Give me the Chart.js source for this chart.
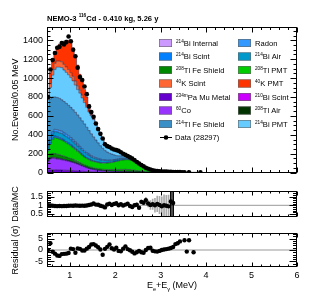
<!DOCTYPE html>
<html>
<head>
<meta charset="utf-8">
<script src="https://cdn.jsdelivr.net/npm/chart.js@4.4.1/dist/chart.umd.min.js"></script>
<style>
  html, body { margin: 0; padding: 0; background: #fff; }
  #wrap { position: relative; width: 315px; height: 301px; }
  canvas { position: absolute; left: 0; }
  #mainChart { top: 0; }
  #ratioChart { top: 182px; }
  #residChart { top: 222px; }
</style>
</head>
<body>
<div id="wrap">
  <canvas id="mainChart" width="315" height="182"></canvas>
  <canvas id="ratioChart" width="315" height="44"></canvas>
  <canvas id="residChart" width="315" height="79"></canvas>
</div>
<script>
const FONT = "'Liberation Sans', Arial, Helvetica, sans-serif";
Chart.defaults.font.family = FONT;
Chart.defaults.color = '#000';

// histogram binning (MeV)
const binLow = 0.5;
const binWidth = 0.05;

// data, events per bin
const dataCounts = [
  800,1090,1190,1265,1320,1330,1370,1355,1380,1440,
  1390,1300,1230,1110,1010,980,910,830,700,640,
  590,520,460,410,360,300,280,270,255,245,
  238,230,215,200,188,176,163,148,130,112,
  96,80,66,50,40,32,24,20,16,14,
  12,11,10,9,8,7,6,6,5,3,
  4,null,3,null,null,null,null,2,null,null
];

// MC components, events per bin
const mcPaMu = [
  25,30,30,30,28,28,27,26,25,24, 23,22,20,19,17,15,13,11,10,9,
  8,7,6,5,4,4,3,3,2,2, 2,1,1,1,1,0,0,0,0,0,
  0,0,0,0,0,0,0,0,0,0, 0,0,0,0,0,0,0,0,0,0, 0,0,0,0,0,0,0,0,0,0
];
const mcCo60 = [
  90,115,120,118,115,112,108,104,100,95, 90,85,78,70,62,55,48,40,33,28,
  24,20,17,15,13,12,11,10,10,9, 9,8,8,7,7,6,6,5,5,4,
  4,3,3,2,2,2,1,1,1,1, 0,0,0,0,0,0,0,0,0,0, 0,0,0,0,0,0,0,0,0,0
];
const mcBi210Scint = [
  6,6,5,5,4,4,3,3,2,2, 2,1,1,1,1,0,0,0,0,0,
  0,0,0,0,0,0,0,0,0,0, 0,0,0,0,0,0,0,0,0,0,
  0,0,0,0,0,0,0,0,0,0, 0,0,0,0,0,0,0,0,0,0, 0,0,0,0,0,0,0,0,0,0
];
const mcBi214Int = [
  3,3,3,3,3,3,3,3,3,3, 3,3,3,2,2,2,2,2,2,2,
  2,2,2,2,2,1,1,1,1,1, 1,1,1,1,1,1,1,1,1,1,
  1,1,0,0,0,0,0,0,0,0, 0,0,0,0,0,0,0,0,0,0, 0,0,0,0,0,0,0,0,0,0
];
const mcTl208Air = [
  4,4,4,4,4,4,3,3,3,3, 3,3,3,3,3,3,3,2,2,2,
  2,2,2,2,2,2,2,2,2,2, 2,2,2,2,2,2,2,2,2,2,
  2,2,2,1,1,1,1,1,0,0, 0,0,0,0,0,0,0,0,0,0, 0,0,0,0,0,0,0,0,0,0
];
const mcTl208Fe = [
  30,40,42,42,40,38,36,34,32,30, 28,26,24,22,20,18,17,16,15,15,
  14,14,14,14,14,15,16,17,18,19, 20,21,22,23,24,24,23,21,18,15,
  12,9,7,5,4,3,2,2,1,1, 0,0,0,0,0,0,0,0,0,0, 0,0,0,0,0,0,0,0,0,0
];
const mcTl208Pmt = [
  72,102,146,168,171,166,165,157,150,143, 136,125,116,108,100,92,82,79,76,69,
  68,65,65,64,65,66,68,71,75,80, 84,91,96,99,101,104,102,98,91,82,
  70,59,47,38,28,20,15,9,6,3, 2,2,1,1,1,0,0,0,0,0, 0,0,0,0,0,0,0,0,0,0
];
const mcBi214Scint = [
  15,18,18,18,17,16,16,15,14,14, 13,13,12,12,11,10,10,9,9,8,
  8,8,7,7,7,6,6,6,6,5, 5,5,5,5,4,4,4,4,4,3,
  3,3,3,3,2,2,2,2,2,2, 2,2,1,1,1,1,1,1,1,1, 0,0,0,0,0,0,0,0,0,0
];
const mcBi214Air = [
  25,35,40,45,48,50,52,52,52,52, 50,48,46,44,42,40,38,36,34,32,
  30,28,26,24,22,20,18,16,15,14, 13,12,11,10,9,8,7,6,5,5,
  4,4,3,3,3,2,2,2,2,1, 1,1,1,1,1,1,1,1,0,0, 0,0,0,0,0,0,0,0,0,0
];
const mcRadon = [
  15,20,22,24,25,25,25,25,24,24, 23,22,21,20,19,18,17,16,15,14,
  13,12,11,10,9,8,7,7,6,6, 5,5,5,4,4,4,3,3,3,2,
  2,2,2,2,1,1,1,1,1,1, 1,1,1,1,0,0,0,0,0,0, 0,0,0,0,0,0,0,0,0,0
];
const mcTl214Fe = [
  415,407,370,343,340,339,332,330,328,322, 319,317,314,309,303,295,285,269,249,231,
  209,187,165,142,120,101,86,72,61,50, 39,32,26,22,19,16,13,10,8,6,
  5,4,3,3,2,2,2,1,1,1, 1,1,1,1,1,1,0,0,0,0, 0,0,0,0,0,0,0,0,0,0
];
const mcBi214Pmt = [
  70,120,230,290,320,330,340,333,327,323, 315,305,287,268,260,242,225,210,195,190,
  182,160,135,115,94,77,70,64,62,60, 58,50,39,32,25,20,15,12,10,8,
  6,5,5,4,4,3,3,3,3,3, 3,3,3,3,3,3,3,3,3,3, 3,3,2,2,2,2,2,1,1,1
];
const mcK40Scint = [
  10,40,60,65,65,65,62,60,58,55, 52,48,44,40,35,30,24,18,12,8,
  5,3,2,1,1,0,0,0,0,0, 0,0,0,0,0,0,0,0,0,0,
  0,0,0,0,0,0,0,0,0,0, 0,0,0,0,0,0,0,0,0,0, 0,0,0,0,0,0,0,0,0,0
];
const mcK40Pmt = [
  10,120,110,125,150,180,208,245,282,310, 323,302,261,220,165,140,116,92,68,42,
  20,12,8,5,4,3,2,1,0,0, 0,0,0,0,0,0,0,0,0,0,
  0,0,0,0,0,0,0,0,0,0, 0,0,0,0,0,0,0,0,0,0, 0,0,0,0,0,0,0,0,0,0
];

// Data/MC ratio with errors, and residuals in sigma
const ratioValues = [
  1.01,0.99,0.97,0.96,0.95,0.96,0.95,0.96,0.96,0.97,
  0.98,0.97,0.99,0.98,0.97,0.98,0.97,0.99,1.02,1.05,
  1.10,1.04,1.03,0.97,0.94,0.88,1.05,1.09,1.02,1.08,
  1.12,1.00,1.06,0.99,1.04,1.09,0.96,0.90,1.00,1.03,
  0.86,1.20,1.15,1.30,1.10,1.02,1.06,1.00,1.08,1.02,
  0.94,1.00,0.97,0.94,1.22,1.13
];
const ratioErrors = [
  0.02,0.02,0.02,0.02,0.02,0.02,0.02,0.02,0.02,0.02,
  0.02,0.02,0.02,0.02,0.02,0.03,0.03,0.03,0.03,0.03,
  0.03,0.04,0.04,0.04,0.04,0.05,0.05,0.05,0.05,0.05,
  0.05,0.06,0.06,0.06,0.07,0.07,0.08,0.08,0.09,0.10,
  0.11,0.12,0.14,0.16,0.20,0.25,0.30,0.40,0.45,0.50,
  0.55,0.60,0.60,0.65,1.20,1.20
];
const residValues = [
  0.0,3.0,-0.8,-1.6,-2.4,-2.6,-1.8,-1.7,-1.6,-1.3,
  0.6,0.4,-1.2,0.7,0.5,-0.2,-0.2,0.6,1.3,2.4,
  2.6,2.0,1.2,0.2,-2.1,0.5,1.4,2.4,0.8,0.2,
  1.0,-0.4,-0.6,0.6,1.6,0.4,-0.1,-0.8,-1.5,-1.0,
  -0.4,-1.0,-1.2,0.0,0.9,1.0,-0.3,-0.6,-0.7,-0.4,
  0.0,0.2,0.4,0.6,0.9,1.3,2.6,3.0,3.8,null,
  4.3,-0.7,4.3,null,-1.0
];

// axis ticks
const xTicks = [1, 2, 3, 4, 5, 6];
const mainYTicks = [0, 200, 400, 600, 800, 1000, 1200, 1400];
const ratioYTicks = [0.5, 1, 1.5];
const residYTicks = [-5, 0, 5];

// stacking order, bottom first
const layers = [
  { key: 'pa',     name: [['234m', 1], ['Pa Mu Metal']],   values: mcPaMu,       color: '#6600cc' },
  { key: 'co',     name: [['60', 1], ['Co']],              values: mcCo60,       color: '#9933ff' },
  { key: 'bi210',  name: [['210', 1], ['Bi Scint']],       values: mcBi210Scint, color: '#cc00ff' },
  { key: 'biint',  name: [['214', 1], ['Bi Internal']],    values: mcBi214Int,   color: '#cc99ff' },
  { key: 'tlair',  name: [['208', 1], ['Tl Air']],         values: mcTl208Air,   color: '#003300' },
  { key: 'tlfe',   name: [['208', 1], ['Tl Fe Shield']],   values: mcTl208Fe,    color: '#008800' },
  { key: 'tlpmt',  name: [['208', 1], ['Tl PMT']],         values: mcTl208Pmt,   color: '#00cc00' },
  { key: 'bisc',   name: [['214', 1], ['Bi Scint']],       values: mcBi214Scint, color: '#0080ff' },
  { key: 'biair',  name: [['214', 1], ['Bi Air']],         values: mcBi214Air,   color: '#0099cc' },
  { key: 'radon',  name: [['Radon']],                      values: mcRadon,      color: '#3399ff' },
  { key: 'tl214',  name: [['214', 1], ['Tl Fe Shield']],   values: mcTl214Fe,    color: '#3a8fc6' },
  { key: 'bipmt',  name: [['214', 1], ['Bi PMT']],         values: mcBi214Pmt,   color: '#66ccff' },
  { key: 'ksc',    name: [['40', 1], ['K Scint']],         values: mcK40Scint,   color: '#ff6633' },
  { key: 'kpmt',   name: [['40', 1], ['K PMT']],           values: mcK40Pmt,     color: '#ff3300' }
];
const legendOrder = ['biint', 'radon', 'bisc', 'biair', 'tlfe', 'tlpmt', 'ksc', 'kpmt',
                     'pa', 'bi210', 'co', 'tlair', 'tl214', 'bipmt'];

const binEdge = i => +(binLow + i * binWidth).toFixed(3);
const binCenter = i => +(binLow + (i + 0.5) * binWidth).toFixed(3);

function stepPoints(vals) {
  const pts = vals.map((v, i) => ({ x: binEdge(i), y: v }));
  pts.push({ x: binEdge(vals.length), y: 0 });
  return pts;
}

function drawParts(ctx, parts, x, y, size, weight) {
  let cx = x;
  parts.forEach(p => {
    const mode = p[1] || 0; // 1 sup, -1 sub
    const s = mode ? size * 0.62 : size;
    ctx.font = `${weight} ${s}px ${FONT}`;
    const dy = mode === 1 ? -size * 0.42 : mode === -1 ? size * 0.28 : 0;
    ctx.fillText(p[0], cx, y + dy);
    cx += ctx.measureText(p[0]).width;
  });
  return cx - x;
}
function partsWidth(ctx, parts, size, weight) {
  let w = 0;
  parts.forEach(p => {
    const s = p[1] ? size * 0.62 : size;
    ctx.font = `${weight} ${s}px ${FONT}`;
    w += ctx.measureText(p[0]).width;
  });
  return w;
}

// ROOT style frame with inward ticks on all four sides
const framePlugin = {
  id: 'frame',
  afterDatasetsDraw(chart, args, o) {
    const { ctx, chartArea: a } = chart;
    const xs = chart.scales.x, ys = chart.scales.y;
    const L = Math.round(a.left) + 0.5, R = Math.round(a.right) - 0.5;
    const T = Math.round(a.top) + 0.5, B = Math.round(a.bottom) - 0.5;
    ctx.save();
    ctx.strokeStyle = '#000';
    ctx.lineWidth = 1;
    ctx.beginPath();
    const k0 = Math.ceil(xs.min / o.xMinor - 1e-6), k1 = Math.floor(xs.max / o.xMinor + 1e-6);
    for (let k = k0; k <= k1; k++) {
      const v = k * o.xMinor;
      const major = Math.abs(v - Math.round(v)) < 1e-6;
      const len = major ? o.xMaj : o.xMin;
      const px = Math.round(xs.getPixelForValue(v)) + 0.5;
      ctx.moveTo(px, B); ctx.lineTo(px, B - len);
      ctx.moveTo(px, T); ctx.lineTo(px, T + len);
    }
    const j0 = Math.ceil(ys.min / o.yMinor - 1e-6), j1 = Math.floor(ys.max / o.yMinor + 1e-6);
    for (let j = j0; j <= j1; j++) {
      const v = j * o.yMinor;
      const major = Math.abs(v / o.yMajorStep - Math.round(v / o.yMajorStep)) < 1e-6;
      const len = major ? o.yMaj : o.yMin;
      const py = Math.round(ys.getPixelForValue(v)) + 0.5;
      ctx.moveTo(L, py); ctx.lineTo(L + len, py);
      ctx.moveTo(R, py); ctx.lineTo(R - len, py);
    }
    ctx.stroke();
    ctx.strokeRect(L, T, R - L, B - T);
    ctx.restore();
  }
};

const titlePlugin = {
  id: 'rootTitle',
  afterDraw(chart) {
    const ctx = chart.ctx;
    ctx.save();
    ctx.fillStyle = '#000';
    ctx.textBaseline = 'alphabetic';
    drawParts(ctx, [['NEMO-3 '], ['116', 1], ['Cd - 0.410 kg, 5.26 y']], 47, 20.5, 7.6, 'bold');
    ctx.restore();
  }
};

const legendPlugin = {
  id: 'rootLegend',
  afterDraw(chart) {
    const ctx = chart.ctx;
    ctx.save();
    ctx.textBaseline = 'alphabetic';
    legendOrder.forEach((key, i) => {
      const l = layers.find(d => d.key === key);
      const col = i % 2, row = Math.floor(i / 2);
      const yc = 43 + row * 13.5;
      const bx = col ? 238 : 159;
      ctx.fillStyle = l.color;
      ctx.fillRect(bx, yc - 4, 13, 8);
      ctx.strokeStyle = '#666';
      ctx.lineWidth = 0.6;
      ctx.strokeRect(bx + 0.3, yc - 3.7, 12.4, 7.4);
      ctx.fillStyle = '#000';
      drawParts(ctx, l.name, bx + 17, yc + 2.8, 7.6, 'normal');
    });
    const yd = 43 + 7 * 13.5;
    ctx.strokeStyle = '#000';
    ctx.lineWidth = 1;
    ctx.beginPath();
    ctx.moveTo(160, yd); ctx.lineTo(172, yd);
    ctx.stroke();
    ctx.beginPath();
    ctx.arc(166, yd, 2.3, 0, Math.PI * 2);
    ctx.fillStyle = '#000';
    ctx.fill();
    drawParts(ctx, [['Data (28297)']], 175, yd + 2.8, 7.6, 'normal');
    ctx.restore();
  }
};

const xTitlePlugin = {
  id: 'xTitle',
  afterDraw(chart) {
    const { ctx, chartArea: a } = chart;
    const parts = [['E'], ['e', -1], ['+E'], ['\u03b3', -1], [' (MeV)']];
    ctx.save();
    ctx.fillStyle = '#000';
    ctx.textBaseline = 'alphabetic';
    const w = partsWidth(ctx, parts, 9, 'normal');
    drawParts(ctx, parts, (a.left + a.right) / 2 - w / 2, 66, 9, 'normal');
    ctx.restore();
  }
};

function yAxis(min, max, ticks, title, extra) {
  return Object.assign({
    type: 'linear', min, max,
    afterFit: s => { s.width = 47; },
    afterBuildTicks: s => { s.ticks = ticks.map(v => ({ value: v })); },
    grid: { display: false, drawTicks: false },
    border: { display: false },
    ticks: { font: { size: 9 }, padding: 4, color: '#000', callback: v => String(v) },
    title: { display: true, text: title, font: { size: 9 }, padding: { top: 10, bottom: 0 }, color: '#000' }
  }, extra || {});
}
const xHidden = { type: 'linear', min: 0.5, max: 6, display: false, offset: false };

// main panel
const mcSets = layers.map((l, k) => ({
  label: l.key,
  data: stepPoints(l.values),
  stepped: true,
  fill: k === 0 ? 'origin' : '-1',
  backgroundColor: l.color,
  borderColor: 'rgba(20,20,60,0.75)',
  borderWidth: 0.6,
  pointRadius: 0,
  stack: 'mc'
}));
const dataSet = {
  label: 'data',
  data: dataCounts.map((v, i) => v == null ? null : { x: binCenter(i), y: v }).filter(Boolean),
  showLine: false,
  pointRadius: 2.3,
  pointBackgroundColor: '#000',
  pointBorderWidth: 0,
  stack: 'data',
  order: -1
};

new Chart(document.getElementById('mainChart'), {
  type: 'line',
  data: { datasets: [...mcSets, dataSet] },
  options: {
    responsive: false,
    animation: false,
    layout: { padding: { top: 27, right: 18, bottom: 4, left: 0 } },
    plugins: {
      legend: { display: false },
      tooltip: { enabled: false },
      frame: { xMinor: 0.2, xMaj: 5, xMin: 2.5, yMinor: 50, yMajorStep: 200, yMaj: 6, yMin: 3 }
    },
    scales: {
      x: xHidden,
      y: yAxis(0, 1540, mainYTicks, 'No.Events/0.05 MeV', { stacked: true })
    }
  },
  plugins: [framePlugin, titlePlugin, legendPlugin]
});

// ratio panel
new Chart(document.getElementById('ratioChart'), {
  type: 'line',
  data: {
    datasets: [
      {
        label: 'one',
        data: [{ x: 0.5, y: 1 }, { x: 6, y: 1 }],
        borderColor: '#999', borderWidth: 1, pointRadius: 0
      },
      {
        type: 'bar',
        label: 'err',
        data: ratioValues.map((v, i) => ({ x: binCenter(i), y: [v - ratioErrors[i], v + ratioErrors[i]] })),
        backgroundColor: ratioValues.map((v, i) => i >= 54 ? '#000' : '#aaa'),
        barThickness: 1,
        order: -1
      },
      {
        label: 'ratio',
        data: ratioValues.map((v, i) => ({ x: binCenter(i), y: v })),
        showLine: false, pointRadius: 2.2, pointBackgroundColor: '#000', pointBorderWidth: 0,
        order: -2
      }
    ]
  },
  options: {
    responsive: false,
    animation: false,
    layout: { padding: { top: 2, right: 18, bottom: 4, left: 0 } },
    plugins: {
      legend: { display: false },
      tooltip: { enabled: false },
      frame: { xMinor: 0.2, xMaj: 4, xMin: 2, yMinor: 0.1, yMajorStep: 0.5, yMaj: 7, yMin: 3.5 }
    },
    scales: {
      x: xHidden,
      y: yAxis(0.35, 1.8, ratioYTicks, 'Data/MC')
    }
  },
  plugins: [framePlugin]
});

// residual panel
new Chart(document.getElementById('residChart'), {
  type: 'line',
  data: {
    datasets: [
      {
        label: 'zero',
        data: [{ x: 0.5, y: 0 }, { x: 6, y: 0 }],
        borderColor: '#999', borderWidth: 1, pointRadius: 0
      },
      {
        label: 'resid',
        data: residValues.map((v, i) => v == null ? null : { x: binCenter(i), y: v }).filter(Boolean),
        showLine: false, pointRadius: 2.2, pointBackgroundColor: '#000', pointBorderWidth: 0,
        order: -1
      }
    ]
  },
  options: {
    responsive: false,
    animation: false,
    layout: { padding: { top: 11, right: 18, bottom: 0, left: 0 } },
    plugins: {
      legend: { display: false },
      tooltip: { enabled: false },
      frame: { xMinor: 0.2, xMaj: 4, xMin: 2, yMinor: 1, yMajorStep: 5, yMaj: 7, yMin: 3.5 }
    },
    scales: {
      x: {
        type: 'linear', min: 0.5, max: 6, offset: false,
        afterFit: s => { s.height = 34; },
        afterBuildTicks: s => { s.ticks = xTicks.map(v => ({ value: v })); },
        grid: { display: false, drawTicks: false },
        border: { display: false },
        ticks: { font: { size: 9 }, padding: 3, color: '#000', maxRotation: 0, callback: v => String(v) }
      },
      y: yAxis(-7.5, 7.5, residYTicks, 'Residual (\u03c3)')
    }
  },
  plugins: [framePlugin, xTitlePlugin]
});
</script>
</body>
</html>
